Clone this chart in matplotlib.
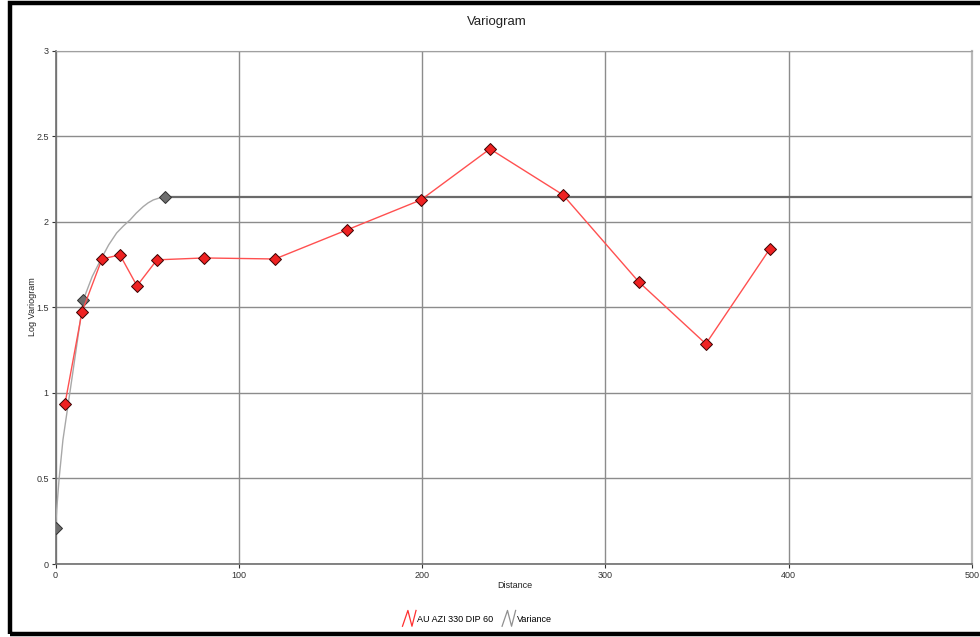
import matplotlib
matplotlib.use("Agg")
import matplotlib.pyplot as plt
from matplotlib.lines import Line2D
from matplotlib.patches import Rectangle
from matplotlib.legend_handler import HandlerBase

plt.rcParams['font.family'] = ['Liberation Sans', 'DejaVu Sans']

# Experimental variogram (AU AZI 330 DIP 60)
exp_dist = [5.1, 14.4, 25.3, 35.1, 44.4, 55.3, 81.0, 119.7, 159.0, 199.3, 237.0, 276.8, 318.2, 354.8, 389.7]
exp_gamma = [0.935, 1.473, 1.782, 1.806, 1.625, 1.777, 1.788, 1.782, 1.952, 2.127, 2.425, 2.157, 1.648, 1.286, 1.841]

# Variance model curve
model_dist = [0.0, 0.6, 1.9, 4.0, 9.0, 15.1, 20.0, 25.1, 29.0, 33.3, 37.0, 40.6, 44.0, 47.8, 50.5, 53.3, 56.5, 59.7]
model_gamma = [0.21, 0.316, 0.497, 0.725, 1.09, 1.543, 1.68, 1.788, 1.865, 1.934, 1.975, 2.01, 2.05, 2.088, 2.11, 2.127, 2.138, 2.145]
# model structure markers
struct_dist = [0.0, 15.1, 59.7]
struct_gamma = [0.21, 1.543, 2.145]
# sill line
sill_dist = [59.7, 500.0]
sill_gamma = [2.145, 2.145]

xticks = [0, 100, 200, 300, 400, 500]
yticks = [0, 0.5, 1, 1.5, 2, 2.5, 3]
ytick_labels = ['0', '0.5', '1', '1.5', '2', '2.5', '3']

fig = plt.figure(figsize=(9.8, 6.37), dpi=100)
fig.patch.set_facecolor('white')

# outer black frame
fig.add_artist(Rectangle((9.5/980, 1 - 634/637), 1.2, (634 - 3)/637,
                         transform=fig.transFigure, fill=False,
                         edgecolor='black', linewidth=3.2, clip_on=False))

ax = fig.add_axes([55.6/980, 1 - 564/637, (972 - 55.6)/980, (564 - 50.5)/637])
ax.set_xlim(0, 500)
ax.set_ylim(0, 3)
ax.set_xticks(xticks)
ax.set_xticklabels([str(t) for t in xticks])
ax.set_yticks(yticks)
ax.set_yticklabels(ytick_labels)
ax.grid(True, color='#8c8c8c', linewidth=1.0)
ax.set_axisbelow(True)
for s in ['left', 'bottom']:
    ax.spines[s].set_color('#6e6e6e')
    ax.spines[s].set_linewidth(1.2)
ax.spines['top'].set_color('#a0a0a0')
ax.spines['right'].set_color('#b8b8b8')
ax.spines['right'].set_linewidth(1.6)
ax.tick_params(axis='both', labelsize=6.5, colors='#333333', length=3, width=0.8, pad=2)

ax.plot(model_dist, model_gamma, color='#a8a8a8', linewidth=1.0, zorder=3)
ax.plot(sill_dist, sill_gamma, color='#6a6a6a', linewidth=1.6, zorder=3)
ax.plot(struct_dist, struct_gamma, linestyle='none', marker='D', markersize=5.8,
        markerfacecolor='#6e6e6e', markeredgecolor='#303030', markeredgewidth=0.7, zorder=4)

ax.plot(exp_dist, exp_gamma, color='#ff5050', linewidth=1.0, zorder=5,
        marker='D', markersize=5.8, markerfacecolor='#ee2222',
        markeredgecolor='#3a0000', markeredgewidth=0.7)

fig.text(497/980, 1 - 22/637, 'Variogram', ha='center', va='center', fontsize=9.5, color='#222222')
fig.text(32/980, 1 - 307/637, 'Log Variogram', ha='center', va='center', rotation=90,
         fontsize=6.5, color='#222222')
fig.text(515/980, 1 - 585/637, 'Distance', ha='center', va='center', fontsize=6.5, color='#222222')


class ZigZag(HandlerBase):
    def create_artists(self, legend, orig_handle, xdescent, ydescent, width, height, fontsize, trans):
        x0 = -xdescent
        y0 = -ydescent - 0.75 * height
        h = height * 2.5
        xs = [x0, x0 + width * 0.4, x0 + width * 0.7, x0 + width]
        ys = [y0, y0 + h, y0, y0 + h]
        ln = Line2D(xs, ys, color=orig_handle.get_color(), linewidth=0.9, transform=trans)
        return [ln]


h1 = Line2D([], [], color='#ff3030')
h2 = Line2D([], [], color='#909090')
fig.legend([h1, h2], ['AU AZI 330 DIP 60', 'Variance'],
           handler_map={Line2D: ZigZag()}, loc='center', bbox_to_anchor=(477/980, 1 - 619/637),
           ncol=2, frameon=False, fontsize=6.5, handlelength=1.5, handletextpad=0.1,
           columnspacing=1.0)

fig.savefig('out.png', dpi=100, facecolor='white')
